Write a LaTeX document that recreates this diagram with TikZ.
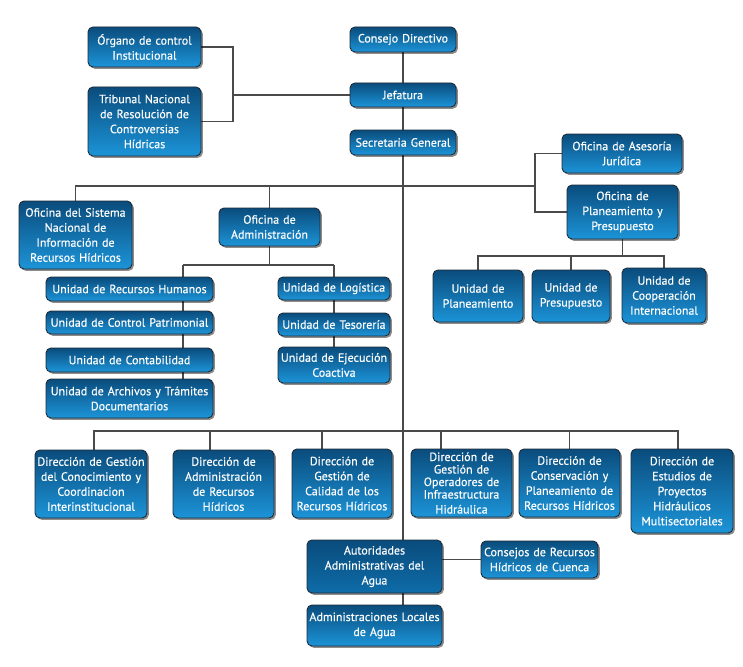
\documentclass[tikz,border=0pt]{standalone}
\usepackage{fontspec}
\setmainfont{PT Sans}
\newfontfamily\boxfont{PT Sans}[FakeBold=0.35]
\usetikzlibrary{shadows,backgrounds}
\definecolor{boxtop}{HTML}{0A4C7C}
\definecolor{boxbot}{HTML}{1C94D8}
\definecolor{darkbot}{HTML}{0E6CA8}
\definecolor{boxline}{HTML}{1E2C3A}
\definecolor{conn}{HTML}{4A4A4A}
\tikzset{
  box/.style={rounded corners=5pt, top color=boxtop, bottom color=boxbot,
    draw=boxline, line width=0.9pt, text=white, align=center,
    inner xsep=2pt, inner ysep=1pt,
    font=\boxfont\fontsize{12}{15}\selectfont,
    drop shadow={shadow xshift=1.8pt, shadow yshift=-1.8pt, opacity=0.45, fill=black}},
  darkbox/.style={bottom color=darkbot},
  conn/.style={draw=conn, line width=1.1pt}
}
\newcommand\bx[6][]{\node[box, #1, text width=#4pt, minimum height=#5pt] (#2) at (#3) {#6};}
\begin{document}
\begin{tikzpicture}[x=1pt,y=-1pt]
\useasboundingbox (0,0) rectangle (743,666);
% top
\bx{organo}{144.5,47}{109}{40}{Órgano de control\\Institucional}
\bx{tribunal}{144.5,121.5}{109}{69}{Tribunal Nacional\\de Resolución de\\Controversias\\Hídricas}
\bx{consejo}{403,39.5}{102}{25}{Consejo Directivo}
\bx{jefatura}{403,95}{102}{24}{Jefatura}
\bx{secretaria}{403,142.5}{102}{25}{Secretaria General}
% right
\bx{asesoria}{622,153.5}{116}{39}{Oficina de Asesoría\\Jurídica}
\bx{ofplan}{622.5,212}{107}{54}{Oficina de\\Planeamiento y\\Presupuesto}
\bx{uplan}{478,296}{86}{52}{Unidad de\\Planeamiento}
\bx{upres}{571,296}{74}{52}{Unidad de\\Presupuesto}
\bx{ucoop}{664,295.5}{80}{55}{Unidad de\\Cooperación\\Internacional}
% left
\bx{sistema}{75.5,235}{109}{68}{Oficina del Sistema\\Nacional de\\Información de\\Recursos Hídricos}
\bx{admin}{269.5,227}{97}{38}{Oficina de\\Administración}
\bx{urh}{129.5,289}{163}{24}{Unidad de Recursos Humanos}
\bx{ucp}{129.5,322.5}{163}{23}{Unidad de Control Patrimonial}
\bx{ucont}{129.5,360}{163}{24}{Unidad de Contabilidad}
\bx{uarch}{129.5,398.5}{163}{39}{Unidad de Archivos y Trámites\\Documentarios}
\bx{ulog}{334,288.5}{108}{23}{Unidad de Logística}
\bx{utes}{334,324.5}{108}{23}{Unidad de Tesorería}
\bx{uejec}{334,365}{108}{36}{Unidad de Ejecución\\Coactiva}
% direcciones
\bx{d1}{91,484}{108}{68}{Dirección de Gestión\\del Conocimiento y\\Coordinacion\\Interinstitucional}
\bx{d2}{223.5,484}{97}{68}{Dirección de\\Administración\\de Recursos\\Hídricos}
\bx{d3}{342,483.5}{96}{69}{Dirección de\\Gestión de\\Calidad de los\\Recursos Hídricos}
\bx{d4}{461.5,483}{97}{68}{\fontsize{12}{12.5}\selectfont Dirección de\\Gestión de\\Operadores de\\Infraestructura\\Hidráulica}
\bx{d5}{569.5,483}{97}{68}{Dirección de\\Conservación y\\Planeamiento de\\Recursos Hídricos}
\bx{d6}{682,491}{98}{84}{Dirección de\\Estudios de\\Proyectos\\Hidráulicos\\Multisectoriales}
% bottom
\bx[darkbox]{autoridades}{374.5,566.5}{131}{53}{Autoridades\\Administrativas del\\Agua}
\bx{consejos}{539.5,559.5}{113}{37}{Consejos de Recursos\\Hídricos de Cuenca}
\bx{locales}{374.5,625.5}{131}{41}{Administraciones Locales\\de Agua}
% connectors
\coordinate (xb) at (233,95);
\coordinate (hb) at (403,186);
\coordinate (rb) at (535,186);
\coordinate (pb) at (622.5,256);
\coordinate (ab) at (269.5,265);
\coordinate (al) at (183,265);
\coordinate (ar) at (334,265);
\coordinate (db) at (403,431);
\begin{scope}[on background layer]
\fill[white] (0,0) rectangle (743,666);
\draw[conn] (consejo.south) -- (consejo.south |- autoridades.north);
\draw[conn] (organo.east) -| (xb) |- (tribunal.east);
\draw[conn] (xb) -- (jefatura.west);
\draw[conn] (sistema.north) |- (rb);
\draw[conn] (admin.north) -- (admin.north |- hb);
\draw[conn] (asesoria.west) -| (rb) |- (ofplan.west);
\draw[conn] (ofplan.south) -- (pb);
\draw[conn] (uplan.north) |- (pb) -| (ucoop.north);
\draw[conn] (upres.north) -- (upres.north |- pb);
\draw[conn] (admin.south) -- (ab);
\draw[conn] (al) -- (ar);
\draw[conn] (al) -- (al |- uarch.north);
\draw[conn] (ar) -- (uejec.north);
\draw[conn] ([xshift=3pt]d1.north) |- (db) -| ([xshift=-4pt]d6.north);
\draw[conn] ([xshift=-13.5pt]d2.north) -- ([xshift=-13.5pt]d2.north |- db);
\draw[conn] ([xshift=-20pt]d3.north) -- ([xshift=-20pt]d3.north |- db);
\draw[conn] ([xshift=-20.5pt]d4.north) -- ([xshift=-20.5pt]d4.north |- db);
\draw[conn] (d5.north) -- (d5.north |- db);
\draw[conn] (consejos.west) -- (consejos.west -| autoridades.east);
\draw[conn] (consejo.south |- autoridades.south) -- (consejo.south |- locales.north);
\end{scope}
\end{tikzpicture}
\end{document}
